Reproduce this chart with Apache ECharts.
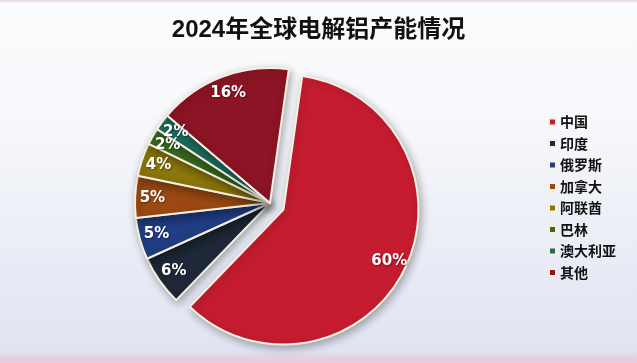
<!DOCTYPE html>
<html><head><meta charset="utf-8">
<script src="https://cdn.jsdelivr.net/npm/echarts@6/dist/echarts.min.js"></script>
<style>html,body{margin:0;padding:0;}#c{width:637px;height:363px;}</style>
</head><body><div id="c"></div>
<script>
const categories = ['中国','印度','俄罗斯','加拿大','阿联酋','巴林','澳大利亚','其他'];
const shares = [60, 6, 5, 5, 4, 2, 2, 16];
const colors = ['#c61c30','#1e2838','#213d84','#9a4912','#8a760a','#3a6a1e','#1e6c60','#8c1424'];
const titleText = '2024年全球电解铝产能情况';

const center = [270, 203];
const R = 135;
const baseData = categories.map((n, i) => ({
  name: n, value: shares[i], selected: i === 0,
  itemStyle: { color: colors[i] }
}));
const chart = echarts.init(document.getElementById('c'), null, {renderer: 'canvas'});
chart.setOption({
  backgroundColor: {
    type: 'linear', x: 0, y: 0, x2: 0, y2: 1,
    colorStops: [
      {offset: 0, color: '#e6d6e2'}, {offset: 0.01, color: '#fbfbfd'},
      {offset: 0.3, color: '#f8f9fc'}, {offset: 0.97, color: '#e0e4f2'},
      {offset: 0.985, color: '#e6cfe0'}, {offset: 1, color: '#e6cfe0'}
    ]
  },
  title: {
    text: titleText, left: 'center', top: 13,
    textStyle: {fontFamily: 'Liberation Sans, Noto Sans CJK SC', fontSize: 24, fontWeight: 'bold', color: '#111'}
  },
  legend: {
    orient: 'vertical', left: 543, top: 110, itemGap: 7.5,
    itemWidth: 7, itemHeight: 7, icon: 'rect',
    data: categories.map((n, i) => ({name: n, itemStyle: {color: colors[i], opacity: 1}})),
    textStyle: {fontFamily: 'Noto Sans CJK SC', fontSize: 14, fontWeight: 'bold', color: '#111', padding: [0, 0, 0, -1]}
  },
  series: [
    {
      type: 'pie', center: center, radius: [0, R], startAngle: 82, clockwise: true,
      selectedMode: 'single', selectedOffset: 15, silent: true,
      itemStyle: {borderColor: '#f4f1e2', borderWidth: 2, shadowBlur: 8, shadowColor: 'rgba(0,0,0,0.3)', shadowOffsetX: 2, shadowOffsetY: 3},
      label: {show: false}, labelLine: {show: false},
      data: baseData, animation: false
    },
    {
      type: 'pie', center: center, radius: [R * 0.7, R], startAngle: 82, clockwise: true,
      selectedMode: 'single', selectedOffset: 15, silent: true,
      itemStyle: {color: 'rgba(0,0,0,0)', borderWidth: 0},
      label: {show: true, position: 'inside', formatter: '{d}%', color: '#fff',
        fontFamily: 'DejaVu Sans', fontWeight: 'bold', fontSize: 15,
        textShadowColor: 'rgba(0,0,0,0.4)', textShadowBlur: 2, textShadowOffsetX: 1, textShadowOffsetY: 1},
      labelLine: {show: false},
      labelLayout: {hideOverlap: false},
      data: categories.map((n, i) => ({name: n, value: shares[i], selected: i === 0, itemStyle: {color: 'rgba(0,0,0,0)'}})),
      animation: false
    }
  ]
});
</script></body></html>
